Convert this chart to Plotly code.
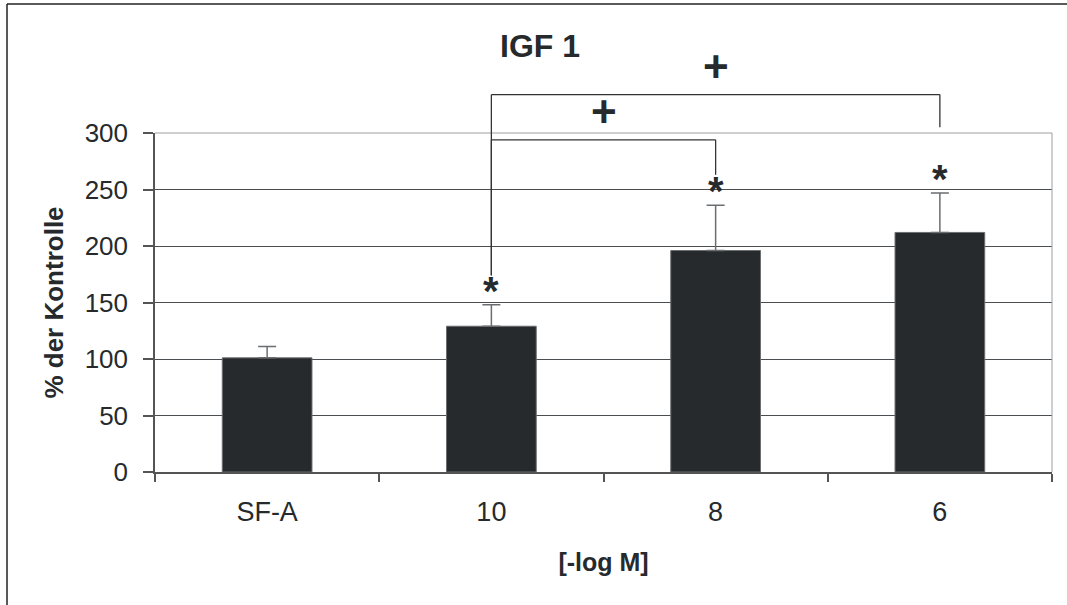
import plotly.graph_objects as go

# ---- data ----
categories = ["SF-A", "10", "8", "6"]
means = [101, 129, 196, 212]
errors = [10, 19, 40, 35]
significant = [False, True, True, True]
# brackets: (from category index, to category index, top value, left drop value, right drop value)
brackets = [
    (1, 2, 294, 174, 263),
    (1, 3, 334, 174, 305),
]
y_ticks = [0, 50, 100, 150, 200, 250, 300]

FONT = "Arial, Liberation Sans, sans-serif"
TXT = "#262a2c"
BAR = "#262a2c"

W, H = 1067, 605
ML, MR, MT, MB = 155, 15, 133, 133
YMAX = 300
ncat = len(categories)

fig = go.Figure()
fig.add_trace(go.Bar(
    x=categories, y=means, width=0.4,
    marker=dict(color=BAR, line=dict(color="#6a6e70", width=1)),
    error_y=dict(type="data", array=errors, arrayminus=[0]*ncat, symmetric=False,
                 color="#6a6e70", thickness=1.5, width=9),
    showlegend=False, hoverinfo="skip",
))

def px_x(i):
    return (i + 0.5) / ncat

shapes = []
# plot-area frame (top + right light gray)
shapes.append(dict(type="line", xref="paper", yref="paper", x0=0, x1=1, y0=1, y1=1,
                   line=dict(color="#9a9ea0", width=1)))
shapes.append(dict(type="line", xref="paper", yref="paper", x0=1, x1=1, y0=0, y1=1,
                   line=dict(color="#9a9ea0", width=1)))
# significance brackets
for a, b, top, da, db in brackets:
    pts = [(px_x(a), da / YMAX), (px_x(a), top / YMAX), (px_x(b), top / YMAX), (px_x(b), db / YMAX)]
    for (x0, y0), (x1, y1) in zip(pts[:-1], pts[1:]):
        shapes.append(dict(type="line", xref="paper", yref="paper", x0=x0, y0=y0, x1=x1, y1=y1,
                           line=dict(color="#333", width=1.3)))
# outer figure frame (left + top)
pw = W - ML - MR
ph = H - MT - MB
fx = (7 - ML) / pw
fy = (H - MB - 4) / ph
shapes.append(dict(type="line", xref="paper", yref="paper", x0=fx, x1=1.05, y0=fy, y1=fy,
                   line=dict(color="#222", width=1.5)))
shapes.append(dict(type="line", xref="paper", yref="paper", x0=fx, x1=fx, y0=fy, y1=-0.5,
                   line=dict(color="#222", width=1.5)))

annotations = []
for i, (m, e, s) in enumerate(zip(means, errors, significant)):
    if s:
        annotations.append(dict(x=i, y=m + e, xref="x", yref="y", text="<b>*</b>",
                                showarrow=False, yanchor="bottom", yshift=-10,
                                font=dict(family=FONT, size=40, color=TXT)))
for a, b, top, da, db in brackets:
    annotations.append(dict(x=(px_x(a) + px_x(b)) / 2, y=top / YMAX, xref="paper", yref="paper",
                            text="<b>+</b>", showarrow=False, yanchor="bottom", yshift=2,
                            font=dict(family=FONT, size=44, color=TXT)))

fig.update_layout(
    width=W, height=H, autosize=False,
    margin=dict(l=ML, r=MR, t=MT, b=MB),
    paper_bgcolor="white", plot_bgcolor="white",
    title=dict(text="<b>IGF 1</b>", x=(540 - ML) / pw, xref="paper", xanchor="center",
               y=(H - 46) / H, yanchor="middle",
               font=dict(family=FONT, size=32, color=TXT)),
    font=dict(family=FONT, color=TXT),
    shapes=shapes, annotations=annotations,
    xaxis=dict(type="category", range=[-0.5, ncat - 0.5], showline=True, linecolor="#555",
               linewidth=1.5, ticks="outside", tickson="boundaries", ticklen=8,
               tickcolor="#555", tickwidth=1.5, showgrid=False,
               tickfont=dict(family=FONT, size=27, color=TXT), ticklabelstandoff=15,
               title=dict(text="<b>[-log M]</b>", font=dict(family=FONT, size=25, color=TXT),
                          standoff=27)),
    yaxis=dict(range=[0, YMAX], tickvals=y_ticks, showline=True, linecolor="#555",
               linewidth=1.5, ticks="outside", ticklen=10, tickcolor="#555", tickwidth=1.5,
               showgrid=True, gridcolor="#4a4e50", gridwidth=1, zeroline=False,
               tickfont=dict(family=FONT, size=26, color=TXT), ticklabelstandoff=10,
               title=dict(text="<b>% der Kontrolle</b>", font=dict(family=FONT, size=26, color=TXT),
                          standoff=14)),
)

fig.write_html("out.html", config={"displayModeBar": False})
with open("out.html", encoding="utf-8") as f:
    html = f.read()
html = html.replace("<head>", "<head><style>html,body{margin:0;padding:0;}</style>", 1)
with open("out.html", "w", encoding="utf-8") as f:
    f.write(html)
